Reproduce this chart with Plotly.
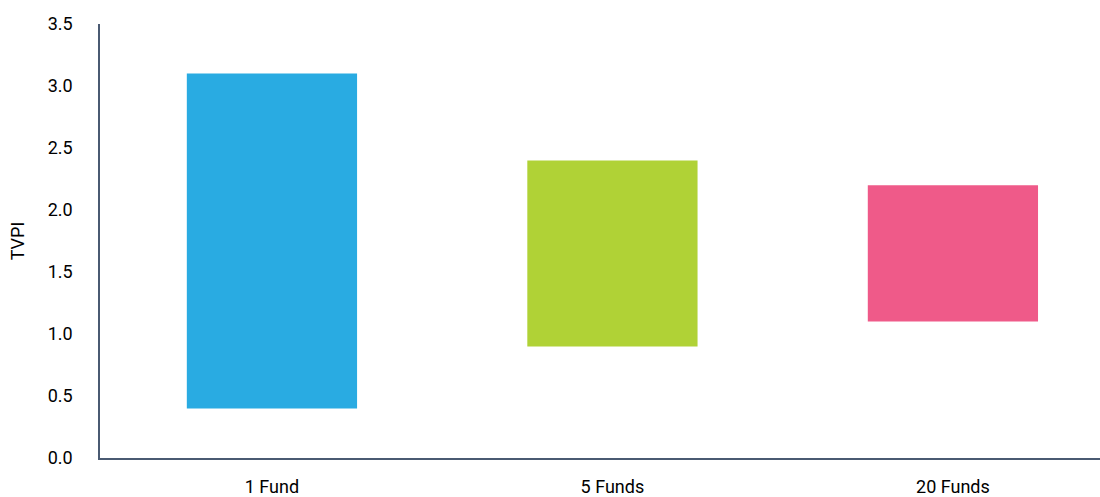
import plotly.graph_objects as go

categories = ["1 Fund", "5 Funds", "20 Funds"]
low_values = [0.4, 0.9, 1.1]
high_values = [3.1, 2.4, 2.2]
bar_colors = ["#29abe2", "#b0d236", "#ef5a89"]
y_ticks = [0.0, 0.5, 1.0, 1.5, 2.0, 2.5, 3.0, 3.5]

heights = [h - l for h, l in zip(high_values, low_values)]

fig = go.Figure(
    go.Bar(
        x=categories,
        y=heights,
        base=low_values,
        marker=dict(color=bar_colors, line=dict(width=0)),
        width=0.5,
        hoverinfo="x+y",
    )
)

font_family = "Roboto, 'Liberation Sans Narrow', Arial, sans-serif"

fig.update_layout(
    width=1100,
    height=497,
    margin=dict(l=100, r=0, t=24, b=39),
    paper_bgcolor="white",
    plot_bgcolor="white",
    showlegend=False,
    font=dict(family=font_family, size=17, color="black"),
    xaxis=dict(
        type="category",
        range=[-0.505, 2.432],
        showline=True,
        linecolor="#4a5a72",
        linewidth=1.5,
        showgrid=False,
        ticks="",
        tickfont=dict(size=18, color="black"),
        ticklabelstandoff=12,
    ),
    yaxis=dict(
        range=[0, 3.5],
        tickvals=y_ticks,
        ticktext=[f"{v:.1f}" for v in y_ticks],
        showline=True,
        linecolor="#4a5a72",
        linewidth=1.5,
        showgrid=False,
        zeroline=False,
        ticks="",
        tickfont=dict(size=18, color="black"),
        ticklabelstandoff=22,
        title=dict(text="TVPI", font=dict(size=18, color="black"), standoff=18),
    ),
)

fig.write_html("out.html")
